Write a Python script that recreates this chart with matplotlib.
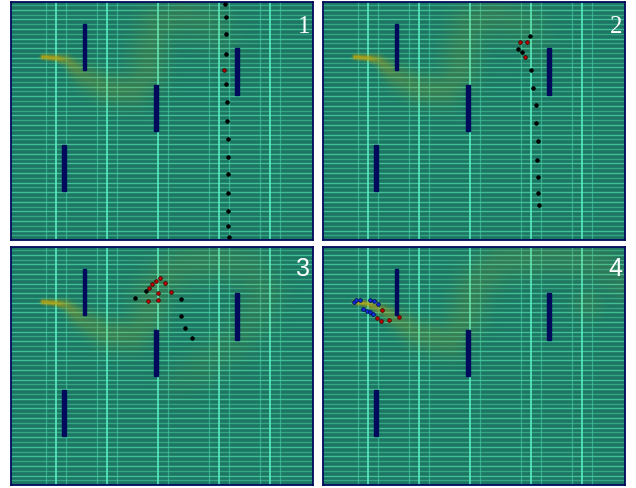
import numpy as np
import matplotlib.pyplot as plt
from matplotlib.patches import Rectangle

# every panel is drawn in its own pixel frame: 302 x 238, y pointing down
PW, PH = 302, 238

bg = '#1c7663'
hline_col = '#45c49a'
vline_faint = '#48cfa4'
vline_bright = '#5cf4c8'
navy = '#020a5c'

vgrid_bright = [45, 96, 147, 208, 259]
vgrid_faint = [35, 55, 86, 106, 157, 198, 218, 249, 269]

# baffles (same in all panels)
bar_x = [73.3, 144.8, 52.8, 226.0]
bar_top = [21.7, 82.7, 142.7, 46.0]
bar_len = 46.7

# smoke plume centre lines: x, y, half width, strength
plume1_x = [32, 45, 56, 72, 96, 122, 136, 139, 146, 172, 202, 216]
plume1_y = [55, 56, 58, 73, 87, 88, 73, 47, 23, 13, 23, 47]
plume1_w = [2.5, 3, 5, 11, 15, 17, 19, 20, 21, 22, 22, 22]
plume1_a = [1.3, 1.2, 0.6, 0.32, 0.26, 0.24, 0.22, 0.2, 0.19, 0.17, 0.13, 0.06]

plume3_x = [32, 45, 56, 72, 96, 122, 136, 142, 155, 175, 206, 239, 252, 240, 222, 189, 166]
plume3_y = [55, 56, 58, 73, 87, 88, 73, 44, 30, 17, 12, 21, 45, 75, 94, 121, 134]
plume3_w = [2.5, 3, 5, 11, 15, 17, 19, 20, 21, 22, 22, 22, 22, 22, 21, 20, 19]
plume3_a = [1.3, 1.2, 0.6, 0.32, 0.26, 0.24, 0.22, 0.2, 0.19, 0.18, 0.17, 0.15, 0.14, 0.13, 0.12, 0.11, 0.07]

plume4_x = [32, 45, 62, 80, 95, 128, 142, 152, 178, 228, 278, 302]
plume4_y = [55, 57, 64, 76, 87, 94, 71, 37, 14, 7, 17, 34]
plume4_w = [2.5, 3, 6, 11, 15, 17, 19, 20, 21, 22, 22, 22]
plume4_a = [1.3, 1.1, 0.55, 0.32, 0.26, 0.24, 0.22, 0.2, 0.19, 0.17, 0.15, 0.13]
blob4 = (265, 57, 16, 0.15)

# particles
p1_black_x = [213.7, 214.7, 215.0, 215.0, 215.3, 215.7, 216.0, 216.7, 216.7, 217.0, 217.0, 217.3, 217.3, 217.7]
p1_black_y = [2.3, 14.7, 31.7, 51.7, 81.7, 100.0, 118.7, 137.0, 155.0, 172.3, 191.0, 209.3, 224.3, 235.3]
p1_red_x = [212.7]
p1_red_y = [67.7]

p2_black_x = [207.3, 195.0, 198.7, 207.7, 210.3, 213.0, 212.7, 214.7, 214.0, 214.7, 215.0, 216.0]
p2_black_y = [34.3, 46.7, 50.3, 67.7, 85.7, 103.3, 121.0, 138.7, 157.7, 175.3, 190.7, 202.7]
p2_red_x = [196.7, 203.7, 202.0]
p2_red_y = [39.7, 40.3, 55.0]

p3_black_x = [135.3, 124.3, 169.7, 170.0, 174.3, 180.7]
p3_black_y = [44.0, 50.7, 51.7, 68.7, 81.3, 91.0]
p3_red_x = [149.0, 145.3, 141.3, 138.0, 154.0, 147.3, 159.7, 137.0, 147.3]
p3_red_y = [30.7, 34.0, 37.3, 41.0, 35.7, 45.7, 45.3, 54.3, 53.0]

p4_blue_x = [31.3, 33.3, 37.3, 47.3, 51.0, 55.3, 40.3, 43.7, 47.3, 50.3]
p4_blue_y = [54.7, 52.7, 52.7, 53.3, 54.0, 57.3, 61.7, 63.7, 65.3, 67.3]
p4_red_x = [59.3, 53.7, 58.0, 66.3, 76.0]
p4_red_y = [63.0, 70.7, 74.3, 73.3, 69.7]


def plume_rgba(px, py, pw, pa, blob=None):
    gx, gy = np.meshgrid(np.arange(PW) + 0.5, np.arange(PH) + 0.5)
    field = np.zeros_like(gx)
    for i in range(len(px) - 1):
        x0, y0, x1, y1 = px[i], py[i], px[i + 1], py[i + 1]
        dx, dy = x1 - x0, y1 - y0
        t = ((gx - x0) * dx + (gy - y0) * dy) / (dx * dx + dy * dy)
        t = np.clip(t, 0, 1)
        d = np.hypot(gx - (x0 + t * dx), gy - (y0 + t * dy))
        w = pw[i] + (pw[i + 1] - pw[i]) * t
        a = pa[i] + (pa[i + 1] - pa[i]) * t
        field = np.maximum(field, a * np.exp(-(d / w) ** 2))
    if blob is not None:
        bx, by, br, ba = blob
        d = np.hypot(gx - bx, gy - by)
        field = np.maximum(field, ba * np.exp(-(d / br) ** 2))
    img = np.zeros((PH, PW, 4))
    img[..., 0] = 0.75
    img[..., 1] = 0.64
    img[..., 2] = 0.04
    img[..., 3] = np.clip(field * 0.7, 0, 0.85)
    return img


def panel(ax, plume, label, label_font, label_y, parts):
    ax.set_facecolor(bg)
    ax.set_xlim(0, PW)
    ax.set_ylim(PH, 0)
    ax.set_xticks([])
    ax.set_yticks([])
    for sp in ax.spines.values():
        sp.set_color(navy)
        sp.set_linewidth(1.3)
    for k, y in enumerate(np.arange(3, PH, 4.8)):
        ax.axhline(y, color=hline_col, lw=1.0, alpha=0.95 if k % 2 else 0.6, zorder=1)
    for x in vgrid_faint:
        ax.axvline(x, color=vline_faint, lw=0.9, alpha=0.6, zorder=1.5)
    for x in vgrid_bright:
        ax.axvline(x, color=vline_bright, lw=1.1, zorder=1.6)
    ax.imshow(plume, extent=(0, PW, PH, 0), zorder=2, interpolation='bilinear', aspect='auto')
    for x, top in zip(bar_x, bar_top):
        ax.add_patch(Rectangle((x - 1.8, top), 3.6, bar_len, color=navy, zorder=3))
    for xs, ys, fc, ec in parts:
        ax.scatter(xs, ys, s=7, c=fc, edgecolors=ec, linewidths=0.5, zorder=4)
    ax.text(299, label_y, label, color='white', ha='right', va='center',
            fontsize=18, family=label_font, zorder=5)


fig = plt.figure(figsize=(6.36, 4.89), dpi=100)
W, H = 636, 489
boxes = [(11, 3), (323, 3), (11, 248), (323, 248)]
axs = [fig.add_axes([x / W, 1 - (y + PH) / H, PW / W, PH / H]) for x, y in boxes]

im1 = plume_rgba(plume1_x, plume1_y, plume1_w, plume1_a)
im3 = plume_rgba(plume3_x, plume3_y, plume3_w, plume3_a)
im4 = plume_rgba(plume4_x, plume4_y, plume4_w, plume4_a, blob4)

panel(axs[0], im1, '1', 'Liberation Serif', 24,
      [(p1_black_x, p1_black_y, 'black', 'black'), (p1_red_x, p1_red_y, '#a00000', '#300000')])
panel(axs[1], im1, '2', 'Liberation Serif', 24,
      [(p2_black_x, p2_black_y, 'black', 'black'), (p2_red_x, p2_red_y, '#c00000', '#300000')])
panel(axs[2], im3, '3', 'Liberation Sans', 21,
      [(p3_black_x, p3_black_y, 'black', 'black'), (p3_red_x, p3_red_y, '#c00000', '#400000')])
panel(axs[3], im4, '4', 'Liberation Sans', 21,
      [(p4_blue_x, p4_blue_y, '#1030e0', '#000050'), (p4_red_x, p4_red_y, '#c00000', '#400000')])

fig.savefig('out.png', dpi=100)
